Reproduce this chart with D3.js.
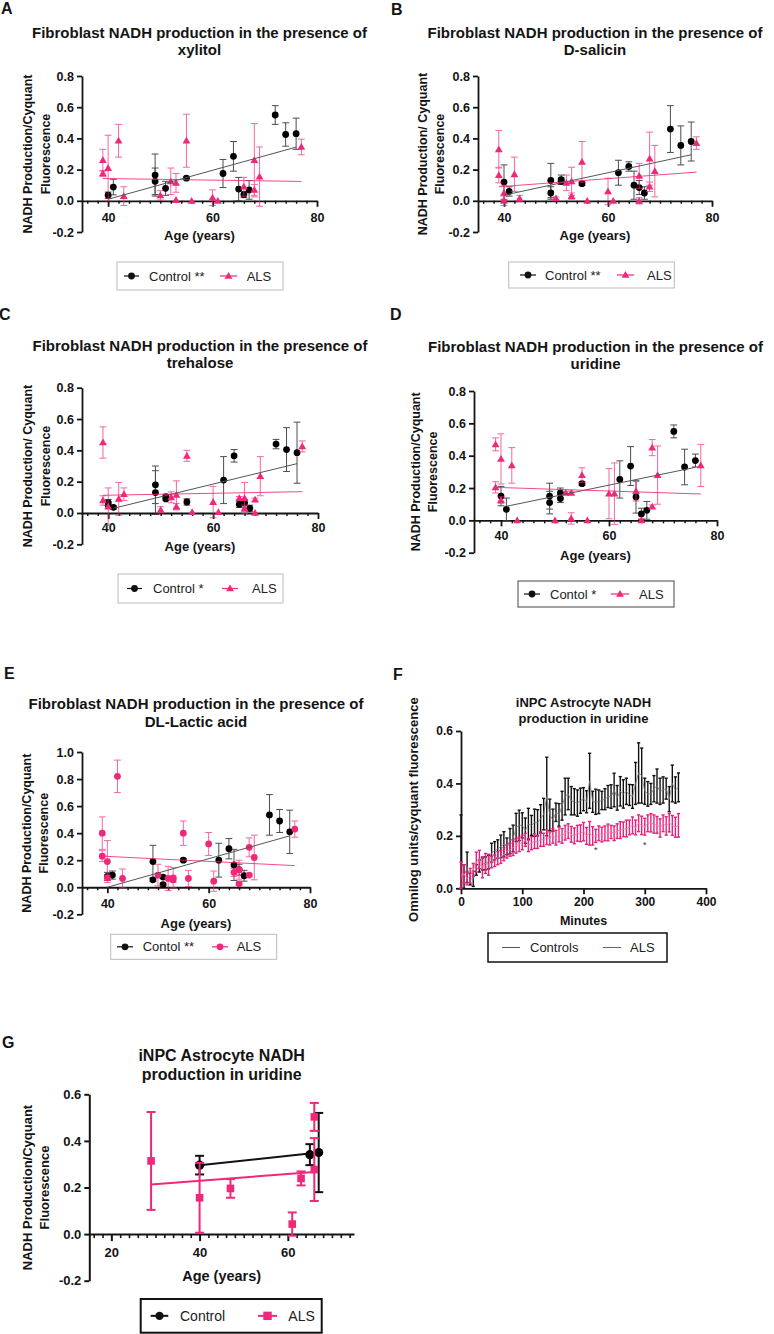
<!DOCTYPE html>
<html><head><meta charset="utf-8">
<script src="https://cdn.jsdelivr.net/npm/d3@7"></script>
<style>
html,body{margin:0;padding:0;background:#fff;}
svg{display:block;font-family:"Liberation Sans",Arial,sans-serif;}
</style></head><body>
<svg id="chart" width="774" height="1334"></svg>
<script>
// ---------------- DATA ----------------
// [age, mean, error]
const xylitolControl = [[40,.036,.02],[41,.088,.05],[49,.165,.135],[49,.125,.085],[51,.08,.045],[55,.145,.01],[62,.175,.09],[64,.285,.095],[65,.075,.075],[66,.04,.02],[67,.07,.06],[72,.55,.06],[74,.425,.075],[76,.43,.1]];
const xylitolALS = [[39,.26,.07],[39,.175,.02],[40,.21,.21],[42,.385,.105],[43,.03,.06],[50,.035,.03],[52,.125,.085],[53,.115,.06],[53,.005,0],[55,.385,.17],[56,0,0],[60,.02,.05],[61,0,0],[66,.09,.06],[68,.26,.235],[68,.07,.035],[69,.155,.19],[77,.345,.05]];
const xylitolFitControl = [[40,.01],[76,.344]];
const xylitolFitALS = [[39,.143],[77,.124]];

const salicinControl = [[40,.12,.11],[41,.06,.03],[49,.13,.11],[49,.05,.04],[51,.135,.03],[51,.125,.02],[55,.11,.01],[62,.18,.08],[64,.22,.03],[65,.10,.09],[66,.085,.045],[67,.05,.04],[72,.46,.15],[74,.355,.125],[76,.38,.125]];
const salicinALS = [[39,.33,.12],[39,.165,.05],[40,.05,.05],[40,0,.03],[42,.17,.11],[43,.015,.02],[50,.015,.01],[52,.115,.05],[53,.125,.09],[53,.03,.02],[55,.25,.13],[56,0,0],[60,.06,.085],[61,0,0],[66,.16,.08],[66,0,.02],[68,.27,.17],[68,.09,.03],[69,.19,.165],[77,.37,.04]];
const salicinFitControl = [[40,.036],[76,.295]];
const salicinFitALS = [[39,.09],[77,.184]];

const trehaloseControl = [[40,.066,.02],[40,.05,.02],[41,.036,.01],[49,.18,.12],[49,.13,.14],[51,.105,.01],[51,.09,.01],[55,.07,.02],[62,.21,.15],[64,.365,.04],[65,.055,.02],[66,.065,.02],[67,.03,.02],[72,.44,.03],[74,.405,.14],[76,.385,.195]];
const trehaloseALS = [[39,.45,.1],[39,.08,.03],[40,.04,.12],[42,.09,.105],[43,.12,.04],[50,.02,.02],[52,.10,.035],[53,.115,.09],[53,.04,.02],[55,.365,.035],[56,.005,0],[60,.07,.1],[61,.005,0],[65,.095,.01],[66,.095,.1],[66,.03,.02],[68,.085,.01],[68,0,0],[69,.235,.125],[77,.425,.035]];
const trehaloseFitControl = [[41,.03],[76,.315]];
const trehaloseFitALS = [[39,.113],[77,.136]];

const uridineControl = [[40,.15,.06],[41,.068,.07],[49,.15,.08],[49,.11,.07],[51,.17,.03],[51,.135,.025],[55,.227,.01],[62,.253,.115],[64,.336,.12],[65,.145,.1],[66,.04,.035],[67,.062,.055],[72,.55,.04],[74,.33,.11],[76,.37,.04]];
const uridineALS = [[39,.47,.04],[39,.204,.035],[40,.38,.155],[40,.125,.02],[42,.34,.11],[43,0,0],[50,0,0],[52,.17,.01],[53,.17,.01],[53,.012,.035],[55,.28,.045],[56,0,0],[60,.165,.155],[61,.165,.19],[65,.18,.06],[66,0,.01],[68,.45,.05],[68,.085,.01],[69,.28,.18],[77,.34,.13]];
const uridineFitControl = [[41,.087],[76,.328]];
const uridineFitALS = [[39,.204],[77,.163]];

const lacticControl = [[40,.08,.03],[41,.09,.03],[49,.19,.12],[49,.055,.01],[51,.075,.01],[51,.02,.01],[55,.20,.01],[62,.20,.125],[64,.285,.075],[65,.165,.115],[66,.13,.04],[67,.085,.04],[72,.535,.15],[74,.49,.085],[76,.41,.16]];
const lacticALS = [[39,.40,.12],[39,.23,.04],[40,.19,.155],[40,.07,.02],[42,.82,.12],[43,.065,.07],[50,.09,.08],[52,.065,.09],[53,.07,.075],[53,.055,.02],[55,.40,.09],[56,.065,.06],[60,.32,.085],[61,.045,.075],[65,.11,.03],[66,.13,.07],[66,.025,.01],[68,.295,.07],[68,.09,.01],[69,.22,.165],[77,.43,.06]];
const lacticFitControl = [[40,0],[76,.38]];
const lacticFitALS = [[39,.23],[77,.16]];

// Panel F time course
const fMinutes = [0,5,10,15,20,25,30,35,40,45,50,55,60,65,70,75,80,85,90,95,100,105,110,115,120,125,130,135,140,145,150,155,160,165,170,175,180,185,190,195,200,205,210,215,220,225,230,235,240,245,250,255,260,265,270,275,280,285,290,295,300,305,310,315,320,325,330,335,340,345,350,355];
const fControlMean = [.045,.045,.08,.035,.036,.07,.085,.093,.095,.10,.136,.143,.15,.16,.168,.16,.18,.19,.232,.24,.24,.22,.245,.24,.25,.25,.265,.283,.35,.28,.26,.29,.28,.315,.35,.36,.334,.33,.325,.334,.34,.33,.41,.33,.33,.33,.335,.34,.35,.35,.375,.345,.37,.36,.37,.356,.35,.40,.44,.43,.37,.36,.36,.38,.39,.37,.375,.38,.34,.40,.375,.385];
const fControlErr = [.235,.045,.058,.022,.029,.02,.023,.023,.025,.026,.036,.035,.035,.043,.048,.032,.048,.051,.054,.058,.048,.048,.06,.038,.052,.05,.054,.06,.15,.06,.042,.035,.043,.055,.07,.06,.054,.05,.05,.048,.044,.042,.105,.04,.048,.045,.035,.04,.042,.045,.064,.047,.056,.054,.05,.04,.045,.08,.115,.105,.05,.047,.04,.05,.065,.05,.05,.04,.048,.07,.05,.055];
const fAlsMean = [.05,.055,.038,.048,.07,.10,.11,.08,.095,.09,.10,.105,.115,.12,.13,.14,.147,.155,.162,.168,.175,.185,.165,.172,.18,.177,.188,.185,.195,.19,.20,.193,.205,.20,.212,.218,.206,.20,.21,.21,.216,.20,.21,.20,.20,.21,.205,.21,.213,.215,.21,.218,.222,.225,.228,.232,.24,.232,.248,.24,.235,.248,.25,.245,.242,.23,.248,.238,.25,.24,.233,.24];
const fAlsErr = [.05,.035,.025,.028,.025,.038,.035,.04,.038,.04,.022,.022,.025,.025,.025,.025,.025,.03,.028,.028,.028,.025,.025,.025,.028,.025,.028,.025,.028,.025,.028,.028,.028,.028,.028,.028,.03,.03,.03,.032,.035,.032,.045,.035,.025,.028,.028,.028,.032,.025,.028,.028,.032,.028,.032,.028,.032,.028,.032,.035,.032,.032,.035,.035,.032,.035,.032,.035,.035,.038,.038,.045];
const fSignificance = [[220,.15],[300,.17]]; // [minute, y] of "*" marks

// Panel G
const astroControl = [[40,.296,.04],[65,.341,.045],[67,.35,.17]];
const astroALS = [[29,.314,.21],[40,.156,.15],[47,.196,.04],[61,.043,.05],[63,.239,.03],[66,.503,.06],[66,.277,.135]];
const astroFitControl = [[40,.296],[67,.35]];
const astroFitALS = [[29,.213],[66,.267]];

// Text / ticks
const panelLetters = ['A','B','C','D','E','F','G'];
const panelTitles = [
  ['Fibroblast NADH production in the presence of','xylitol'],
  ['Fibroblast NADH production in the presence of','D-salicin'],
  ['Fibroblast NADH production in the presence of','trehalose'],
  ['Fibroblast NADH production in the presence of','uridine'],
  ['Fibroblast NADH production in the presence of','DL-Lactic acid'],
  ['iNPC Astrocyte NADH','production in uridine'],
  ['iNPC Astrocyte NADH','production in uridine']
];
const yLabels = [
  ['NADH Production/Cyquant','Fluorescence'],
  ['NADH Production/ Cyquant','Fluorescence'],
  ['NADH Production/ Cyquant','Fluorescence'],
  ['NADH Production/Cyquant','Fluorescence'],
  ['NADH Production/Cyquant','Fluorescence'],
  ['Omnilog units/cyquant fluorescence'],
  ['NADH Production/Cyquant','Fluorescence']
];
const xLabels = ['Age (years)','Age (years)','Age (years)','Age (years)','Age (years)','Minutes','Age (years)'];
const legendLabels = [
  ['Control **','ALS'],['Control **','ALS'],['Control *','ALS'],['Contol *','ALS'],['Contol **','ALS'],['Controls','ALS'],['Control','ALS']
];
const ageTicks = [40,60,80];
const ageTicksG = [20,40,60];
const minuteTicks = [0,100,200,300,400];
const yTicks08 = [-0.2,0,0.2,0.4,0.6,0.8];
const yTicks10 = [-0.2,0,0.2,0.4,0.6,0.8,1.0];
const yTicksF = [0,0.2,0.4,0.6];
const yTicksG = [-0.2,0,0.2,0.4,0.6];

// ---------------- DRAW ----------------
const svg = d3.select('#chart');
const FONT = '"Liberation Sans", Arial, sans-serif';
const PINK = '#f0287a';
const INK = '#141414';

function styleAxis(sel, fs, sw) {
  sel.attr('font-family', null).attr('font-size', null);
  sel.selectAll('.domain, .tick line').attr('stroke', INK).attr('stroke-width', sw);
  sel.selectAll('text').attr('fill', INK).style('font-size', fs + 'px')
     .style('font-weight', 'bold').style('font-family', FONT);
}

function frame(i, L) {
  const x = d3.scaleLinear().domain(L.xDomain).range([L.left, L.right]);
  const y = d3.scaleLinear().domain(L.yDomain).range([L.bottom, L.top]);
  const g = svg.append('g');
  const cx = (L.left + L.right) / 2;
  g.append('text').attr('x', L.letter[0]).attr('y', L.letter[1]).text(panelLetters[i])
    .style('font-size', '16px').style('font-weight', 'bold').attr('fill', INK);
  panelTitles[i].forEach((t, k) => g.append('text').attr('x', cx).attr('y', L.titleY[k])
    .attr('text-anchor', 'middle').style('font-size', L.titleFs + 'px').style('font-weight', 'bold')
    .attr('fill', INK).text(t));
  const y0 = y(Math.max(0, L.yDomain[0]));
  const pad = L.xTickBase - y0 - L.tick - 0.71 * L.tickFs;
  const xa = g.append('g').attr('transform', `translate(0,${y0})`)
    .call(d3.axisBottom(x).tickValues(L.xTicks).tickSize(L.tick).tickSizeOuter(0)
      .tickPadding(pad).tickFormat(d3.format('d')));
  styleAxis(xa, L.tickFs, L.axisW);
  if (L.minor) {
    const mt = d3.range(L.minor[0], L.minor[1] + 0.01, L.minor[2]).filter(v => !L.xTicks.includes(v));
    const xm = g.append('g').attr('transform', `translate(0,${y0})`)
      .call(d3.axisBottom(x).tickValues(mt).tickSize(L.minorTick).tickFormat(''));
    xm.select('.domain').remove();
    styleAxis(xm, L.tickFs, L.axisW * 0.8);
  }
  const ya = g.append('g').attr('transform', `translate(${L.left},0)`)
    .call(d3.axisLeft(y).tickValues(L.yTicks).tickSize(5).tickSizeOuter(0).tickPadding(3)
      .tickFormat(d => d.toFixed(1)));
  styleAxis(ya, L.tickFs, L.axisW);
  g.append('text').attr('x', cx).attr('y', L.xTitleY).attr('text-anchor', 'middle')
    .style('font-size', L.xTitleFs + 'px').style('font-weight', 'bold').attr('fill', INK).text(xLabels[i]);
  const cy = (L.top + L.bottom) / 2;
  yLabels[i].forEach((t, k) => g.append('text')
    .attr('transform', `translate(${L.yLabelX[k]},${cy}) rotate(-90)`)
    .attr('text-anchor', 'middle').style('font-size', L.yLabelFs + 'px').style('font-weight', 'bold')
    .attr('fill', INK).text(t));
  return { g, x, y };
}

function marker(g, shape, px, py, color, s) {
  if (shape === 'circle') g.append('circle').attr('cx', px).attr('cy', py).attr('r', s).attr('fill', color);
  else if (shape === 'triangle') g.append('path').attr('transform', `translate(${px},${py + 0.6})`)
    .attr('d', d3.symbol(d3.symbolTriangle, s * s * 2.3)()).attr('fill', color);
  else if (shape === 'square') g.append('rect').attr('x', px - s).attr('y', py - s)
    .attr('width', 2 * s).attr('height', 2 * s).attr('fill', color);
}

function errorBars(g, data, x, y, color, sw, cap, op) {
  const eb = g.append('g').attr('stroke', color).attr('stroke-width', sw).attr('opacity', op);
  eb.selectAll('g').data(data.filter(d => d[2] > 0)).join('g').each(function (d) {
    const s = d3.select(this), px = x(d[0]), a = y(d[1] + d[2]), b = y(d[1] - d[2]);
    s.append('line').attr('x1', px).attr('x2', px).attr('y1', a).attr('y2', b);
    s.append('line').attr('x1', px - cap).attr('x2', px + cap).attr('y1', a).attr('y2', a);
    s.append('line').attr('x1', px - cap).attr('x2', px + cap).attr('y1', b).attr('y2', b);
  });
}

function fitLine(g, pts, x, y, color, sw, op) {
  g.append('path').datum(pts).attr('d', d3.line().x(d => x(d[0])).y(d => y(d[1])))
    .attr('stroke', color).attr('stroke-width', sw).attr('fill', 'none').attr('opacity', op);
}

function legend(i, Lg) {
  const g = svg.append('g');
  g.append('rect').attr('x', Lg.x).attr('y', Lg.y).attr('width', Lg.w).attr('height', Lg.h)
    .attr('fill', '#fff').attr('stroke', Lg.stroke).attr('stroke-width', Lg.sw);
  const cy = Lg.y + Lg.h / 2 + (Lg.dy || 0);
  Lg.items.forEach((it, k) => {
    g.append('line').attr('x1', it[0]).attr('x2', it[1]).attr('y1', cy).attr('y2', cy)
      .attr('stroke', it[4]).attr('stroke-width', Lg.lw);
    marker(g, it[3], (it[0] + it[1]) / 2, cy, it[4], Lg.ms);
    g.append('text').attr('x', it[2]).attr('y', cy + Lg.fs * 0.36).style('font-size', Lg.fs + 'px')
      .attr('fill', '#222').text(legendLabels[i][k]);
  });
}

// Layouts (pixel positions only)
const base = { xDomain: [35, 80], tick: 6, minorTick: 3, minor: [36, 80, 2], tickFs: 12.5, titleFs: 15,
  xTitleFs: 13, yLabelFs: 12.5, axisW: 1.8, xTicks: ageTicks };
const layouts = [
  Object.assign({}, base, { left: 82, right: 317, top: 76, bottom: 232, yDomain: [-0.2, 0.8], yTicks: yTicks08,
    letter: [1, 14], titleY: [37.5, 55], yLabelX: [32, 50], xTickBase: 221.7, xTitleY: 239.5 }),
  Object.assign({}, base, { left: 478, right: 712, top: 76, bottom: 232, yDomain: [-0.2, 0.8], yTicks: yTicks08,
    letter: [391, 15], titleY: [37.5, 55], yLabelX: [427, 444], xTickBase: 221.7, xTitleY: 239.5 }),
  Object.assign({}, base, { left: 82, right: 318, top: 387.7, bottom: 544.3, yDomain: [-0.2, 0.8], yTicks: yTicks08,
    letter: [-1, 320], titleY: [351, 367.5], yLabelX: [32, 50], xTickBase: 532, xTitleY: 551 }),
  Object.assign({}, base, { left: 474, right: 717, top: 391, bottom: 552.7, yDomain: [-0.2, 0.8], yTicks: yTicks08,
    letter: [390, 320], titleY: [352, 368.5], yLabelX: [420, 437], xTickBase: 540, xTitleY: 560 }),
  Object.assign({}, base, { left: 82, right: 310, top: 752, bottom: 914.3, yDomain: [-0.2, 1.0], yTicks: yTicks10,
    letter: [4, 679], titleY: [709, 727], yLabelX: [31, 48], xTickBase: 907.7, xTitleY: 928 }),
  Object.assign({}, base, { xDomain: [0, 400], left: 461, right: 706, top: 731, bottom: 888.3, yDomain: [0, 0.6],
    yTicks: yTicksF, xTicks: minuteTicks, minor: null, tickFs: 12, titleFs: 13, xTitleFs: 12.5, yLabelFs: 13,
    letter: [393, 680], titleY: [707, 722.5], yLabelX: [418], xTickBase: 906, xTitleY: 924.5 }),
  Object.assign({}, base, { xDomain: [15, 75], left: 89.3, right: 354, top: 1094.3, bottom: 1280.7, yDomain: [-0.2, 0.6],
    yTicks: yTicksG, xTicks: ageTicksG, minor: [16, 74, 2], tick: 7, minorTick: 4, tickFs: 13, titleFs: 16,
    xTitleFs: 14.5, yLabelFs: 13, axisW: 2, letter: [2, 1048], titleY: [1061, 1080], yLabelX: [32, 49],
    xTickBase: 1257, xTitleY: 1281 })
];

const scatterSets = [
  [xylitolControl, xylitolALS, xylitolFitControl, xylitolFitALS, 'triangle'],
  [salicinControl, salicinALS, salicinFitControl, salicinFitALS, 'triangle'],
  [trehaloseControl, trehaloseALS, trehaloseFitControl, trehaloseFitALS, 'triangle'],
  [uridineControl, uridineALS, uridineFitControl, uridineFitALS, 'triangle'],
  [lacticControl, lacticALS, lacticFitControl, lacticFitALS, 'circle']
];

scatterSets.forEach((S, i) => {
  const { g, x, y } = frame(i, layouts[i]);
  const m = g.append('g');
  errorBars(m, S[0], x, y, '#3a3a3a', 1, 3.4, 0.9);
  S[0].forEach(d => marker(m, 'circle', x(d[0]), y(d[1]), '#000', 3.4));
  errorBars(m, S[1], x, y, PINK, 1, 3.4, 0.7);
  S[1].forEach(d => marker(m, S[4], x(d[0]), y(d[1]), PINK, 3.4));
  fitLine(m, S[2], x, y, '#555', 1, 1);
  fitLine(m, S[3], x, y, PINK, 1, 0.85);
});

// Panel F
(function () {
  const L = layouts[5];
  const { g, x, y } = frame(5, L);
  const m = g.append('g');
  const ctrl = fMinutes.map((t, k) => [t, fControlMean[k], fControlErr[k]]);
  const als = fMinutes.map((t, k) => [t, fAlsMean[k], fAlsErr[k]]);
  const clipY = v => Math.max(0, v);
  function bars(data, color) {
    const eb = m.append('g').attr('stroke', color).attr('stroke-width', 1.4);
    data.forEach(d => {
      const px = x(d[0]), a = y(d[1] + d[2]), b = y(clipY(d[1] - d[2]));
      eb.append('line').attr('x1', px).attr('x2', px).attr('y1', a).attr('y2', b);
      eb.append('line').attr('x1', px - 1.6).attr('x2', px + 1.6).attr('y1', a).attr('y2', a);
      eb.append('line').attr('x1', px - 1.6).attr('x2', px + 1.6).attr('y1', b).attr('y2', b);
    });
  }
  bars(ctrl, '#111');
  fitLine(m, ctrl.map(d => [d[0], d[1]]), x, y, '#777', 0.8, 1);
  bars(als, '#e8207a');
  fitLine(m, als.map(d => [d[0], d[1]]), x, y, '#f27aa8', 0.8, 1);
  fSignificance.forEach(s => m.append('text').attr('x', x(s[0])).attr('y', y(s[1]) + 4)
    .attr('text-anchor', 'middle').style('font-size', '9px').attr('fill', '#333').text('*'));
})();

// Panel G
(function () {
  const { g, x, y } = frame(6, layouts[6]);
  const m = g.append('g');
  errorBars(m, astroControl, x, y, '#111', 2, 4.5, 1);
  fitLine(m, astroFitControl, x, y, '#111', 2, 1);
  astroControl.forEach(d => marker(m, 'circle', x(d[0]), y(d[1]), '#000', 4.6));
  errorBars(m, astroALS, x, y, PINK, 2, 4.5, 1);
  fitLine(m, astroFitALS, x, y, PINK, 2, 1);
  astroALS.forEach(d => marker(m, 'square', x(d[0]), y(d[1]), PINK, 3.8));
})();

// Legends: items = [lineX0, lineX1, textX, shape, color]
legend(0, { x: 117, y: 262, w: 166, h: 28, stroke: '#bbb', sw: 1, lw: 1.2, ms: 3.4, fs: 13,
  items: [[124, 139, 149, 'circle', '#111'], [220, 237, 246.7, 'triangle', PINK]] });
legend(1, { x: 508.7, y: 262, w: 165.6, h: 26, stroke: '#bbb', sw: 1, lw: 1.2, ms: 3.4, fs: 13,
  items: [[520, 536, 545, 'circle', '#111'], [617, 634, 647, 'triangle', PINK]] });
legend(2, { x: 118, y: 574, w: 165, h: 29, stroke: '#bbb', sw: 1, lw: 1.2, ms: 3.4, fs: 13,
  items: [[127, 142, 153, 'circle', '#111'], [222, 238, 252, 'triangle', PINK]] });
legend(3, { x: 518, y: 581, w: 156, h: 26, stroke: '#444', sw: 1, lw: 1.2, ms: 3.4, fs: 13,
  items: [[524, 540, 550, 'circle', '#111'], [611, 629, 639, 'triangle', PINK]] });
legend(4, { x: 110.7, y: 934.3, w: 166, h: 25, stroke: '#bbb', sw: 1, lw: 1.2, ms: 3.4, fs: 13,
  items: [[117, 133, 142.7, 'circle', '#111'], [212, 228, 236.7, 'circle', PINK]] });
legend(5, { x: 488, y: 933, w: 179, h: 29, stroke: '#111', sw: 1.5, lw: 1, ms: 1.2, fs: 13,
  items: [[502, 520, 530, '', '#555'], [603, 621, 630, '', '#e8207a']] });
legend(6, { x: 140.7, y: 1299, w: 181, h: 33.7, stroke: '#111', sw: 2, lw: 2, ms: 4.2, fs: 14,
  items: [[150.7, 168.3, 180, 'circle', '#111'], [258, 277, 288.3, 'square', PINK]] });
</script>
</body></html>
